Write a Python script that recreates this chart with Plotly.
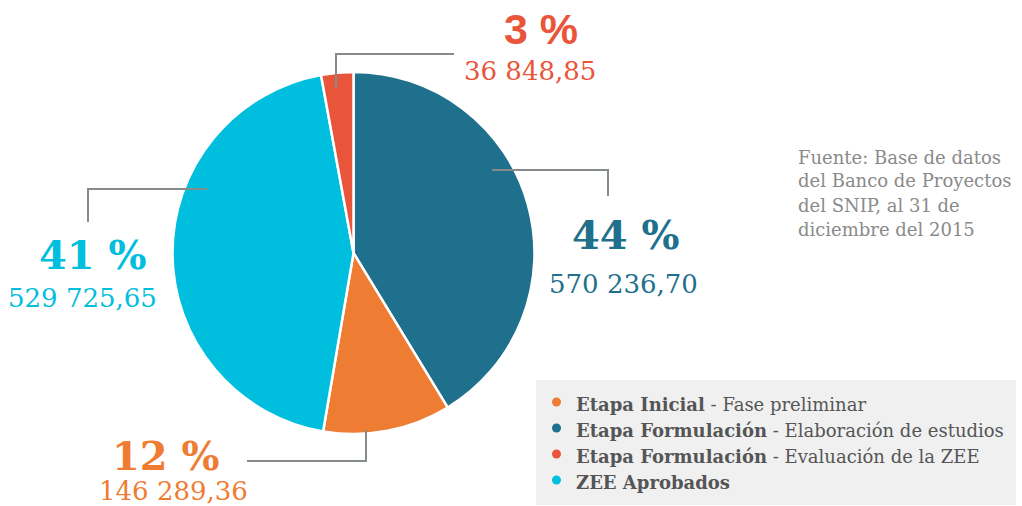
import plotly.graph_objects as go

W, H = 1022, 506

# Slice order (clockwise from 12 o'clock), as drawn in the reference
slice_names = ["Etapa Formulación - Elaboración de estudios",
               "Etapa Inicial - Fase preliminar",
               "ZEE Aprobados",
               "Etapa Formulación - Evaluación de la ZEE"]
slice_values = [529725.65, 146289.36, 570236.70, 36848.85]
slice_colors = ["#1e708d", "#ee7c32", "#00bedd", "#e9553a"]

# Label texts as printed in the reference
pct_labels = ["44 %", "12 %", "41 %", "3 %"]
amount_labels = ["570 236,70", "146 289,36", "529 725,65", "36 848,85"]

legend_bold = ["Etapa Inicial", "Etapa Formulación", "Etapa Formulación", "ZEE Aprobados"]
legend_rest = [" - Fase preliminar", " - Elaboración de estudios", " - Evaluación de la ZEE", ""]
legend_colors = ["#ee7c32", "#1e708d", "#e9553a", "#00bedd"]

source_lines = ["Fuente: Base de datos", "del Banco de Proyectos",
                "del SNIP, al 31 de", "diciembre del 2015"]

def px(x):
    return x / W

def py(y):
    return 1 - y / H

fig = go.Figure()
fig.add_trace(go.Pie(
    labels=slice_names, values=slice_values, sort=False, direction="clockwise",
    rotation=0, marker=dict(colors=slice_colors, line=dict(color="white", width=2.5)),
    textinfo="none", hoverinfo="label+value+percent", showlegend=False,
    domain=dict(x=[px(172.5), px(534.5)], y=[py(434), py(72)]),
))

SERIF = "DejaVu Serif"
annotations = []
shapes = []

# percent / amount label positions (pixel centres): pct x, pct y, amount x, amount y
label_pos = [(626, 234, 623, 284), (166, 455, 173, 491),
             (93, 254, 82, 298), (541, 29, 530, 71)]
for i, (cx1, y1, cx2, y2) in enumerate(label_pos):
    col = slice_colors[i]
    fam = "Liberation Sans" if i == 3 else SERIF
    annotations.append(dict(x=px(cx1), y=py(y1), xref="paper", yref="paper",
                            text="<b>%s</b>" % pct_labels[i], showarrow=False,
                            font=dict(family=fam, size=40 if i != 3 else 43, color=col),
                            xanchor="center", yanchor="middle"))
    annotations.append(dict(x=px(cx2), y=py(y2), xref="paper", yref="paper",
                            text=amount_labels[i], showarrow=False,
                            font=dict(family=SERIF, size=26, color=col),
                            xanchor="center", yanchor="middle"))

# leader lines
leaders = [
    [(492, 170), (608, 170), (608, 196)],
    [(366, 430), (366, 461), (247, 461)],
    [(207, 189), (88, 189), (88, 222)],
    [(336, 88), (336, 54), (454, 54)],
]
for pts in leaders:
    path = "M %f,%f " % (px(pts[0][0]), py(pts[0][1]))
    path += " ".join("L %f,%f" % (px(a), py(b)) for a, b in pts[1:])
    shapes.append(dict(type="path", path=path, xref="paper", yref="paper",
                       line=dict(color="#858a8a", width=2)))

# source note
for k, line in enumerate(source_lines):
    annotations.append(dict(x=px(796), y=py(157 + k * 24), xref="paper", yref="paper",
                            text=line, showarrow=False,
                            font=dict(family=SERIF, size=18, color="#8a8a8a"),
                            xanchor="left", yanchor="middle"))

# legend box
shapes.append(dict(type="rect", x0=px(536), x1=px(1016), y0=py(505), y1=py(380),
                   xref="paper", yref="paper", fillcolor="#f0f0f0", line=dict(width=0),
                   layer="below"))
for k in range(4):
    yc = 404 + k * 26
    shapes.append(dict(type="circle", xref="paper", yref="paper",
                       x0=px(552), x1=px(561), y0=py(yc + 2.5), y1=py(yc - 6.5),
                       fillcolor=legend_colors[k], line=dict(width=0)))
    annotations.append(dict(x=px(574), y=py(yc), xref="paper", yref="paper",
                            text="<b>%s</b>%s" % (legend_bold[k], legend_rest[k]),
                            showarrow=False, xanchor="left", yanchor="middle",
                            font=dict(family=SERIF, size=18, color="#555555")))

fig.update_layout(width=W, height=H, autosize=False,
                  margin=dict(l=0, r=0, t=0, b=0),
                  paper_bgcolor="white", plot_bgcolor="white",
                  annotations=annotations, shapes=shapes)

fig.write_html("out.html", config={"displayModeBar": False},
               post_script="document.body.style.margin='0';")
